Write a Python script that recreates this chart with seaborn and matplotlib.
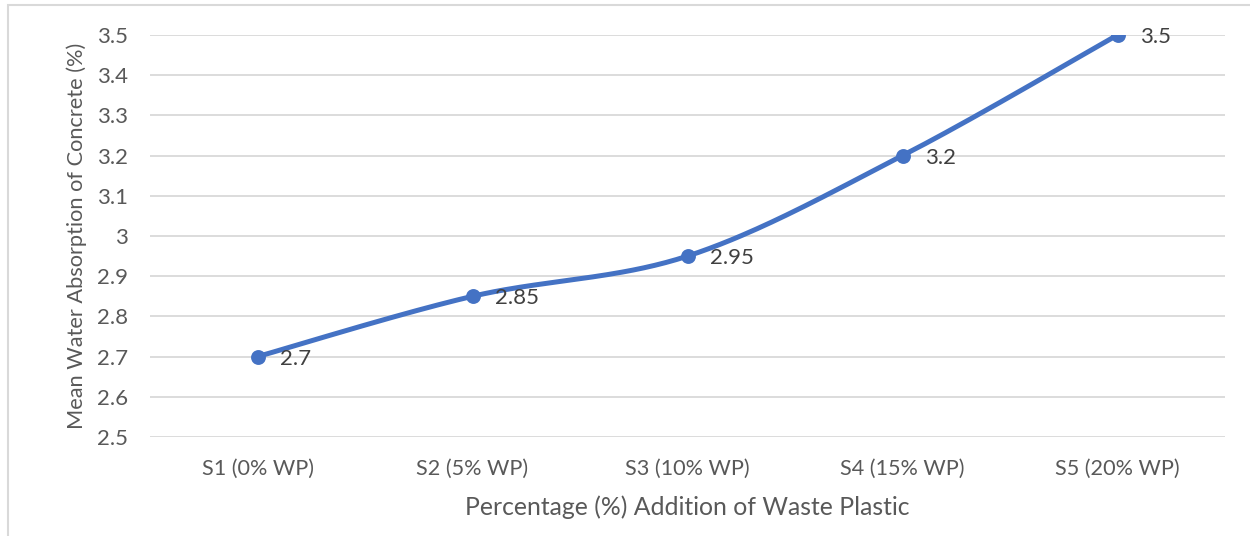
import numpy as np
import pandas as pd
import matplotlib
matplotlib.use("Agg")
import matplotlib.pyplot as plt
from matplotlib.patches import Rectangle
import seaborn as sns

categories = ["S1 (0% WP)", "S2 (5% WP)", "S3 (10% WP)", "S4 (15% WP)", "S5 (20% WP)"]
absorption = [2.7, 2.85, 2.95, 3.2, 3.5]
y_ticks = [2.5, 2.6, 2.7, 2.8, 2.9, 3.0, 3.1, 3.2, 3.3, 3.4, 3.5]
y_tick_labels = ["2.5", "2.6", "2.7", "2.8", "2.9", "3", "3.1", "3.2", "3.3", "3.4", "3.5"]

x_label = "Percentage (%) Addition of Waste Plastic"
y_label = "Mean Water Absorption of Concrete (%)"

LINE = "#4472C4"
GRID = "#D9D9D9"
TICK = "#595959"

sns.set_theme(style="white")
plt.rcParams["font.family"] = ["Lato", "DejaVu Sans"]

df = pd.DataFrame({"pos": np.arange(len(categories)), "val": absorption})

fig = plt.figure(figsize=(12.5, 5.36), dpi=100)
ax = fig.add_axes([150 / 1250, 1 - 437 / 536, (1225 - 150) / 1250, (437 - 35) / 536])

# smoothed connecting curve (cubic Bezier segments, Catmull-Rom style tangents)
px = df["pos"].to_numpy(dtype=float)
py = df["val"].to_numpy(dtype=float)
sx, sy = [], []
n = len(px)
t = np.linspace(0, 1, 60)
for i in range(n - 1):
    p0 = np.array([px[max(i - 1, 0)], py[max(i - 1, 0)]])
    p1 = np.array([px[i], py[i]])
    p2 = np.array([px[i + 1], py[i + 1]])
    p3 = np.array([px[min(i + 2, n - 1)], py[min(i + 2, n - 1)]])
    c1 = p1 + (p2 - p0) / 6.0
    c2 = p2 - (p3 - p1) / 6.0
    b = ((1 - t) ** 3)[:, None] * p1 + (3 * (1 - t) ** 2 * t)[:, None] * c1 \
        + (3 * (1 - t) * t ** 2)[:, None] * c2 + (t ** 3)[:, None] * p2
    sx.extend(b[:, 0])
    sy.extend(b[:, 1])
ax.plot(sx, sy, color=LINE, lw=3.6, solid_capstyle="round", zorder=3)

sns.scatterplot(data=df, x="pos", y="val", ax=ax, color=LINE, s=115,
                edgecolor=LINE, linewidth=0, zorder=4, legend=False)

for xp, v in zip(df["pos"], df["val"]):
    ax.annotate(f"{v:g}", (xp, v), xytext=(16.5, -1.5), textcoords="offset points",
                ha="left", va="center", fontsize=16, color="#404040")

ax.set_xlim(-0.5, len(categories) - 0.5)
ax.set_ylim(2.5, 3.5)
ax.set_yticks(y_ticks)
ax.set_yticklabels(y_tick_labels)
ax.set_xticks(range(len(categories)))
ax.set_xticklabels(categories)
ax.yaxis.grid(True, color=GRID, lw=1.3)
ax.set_axisbelow(True)
for s in ax.spines.values():
    s.set_visible(False)
ax.tick_params(axis="y", length=0, labelsize=16, colors=TICK, pad=16)
ax.tick_params(axis="x", length=0, labelsize=15.6, colors=TICK, pad=16)
ax.set_xlabel(x_label, fontsize=17.8, color=TICK, labelpad=12)
ax.set_ylabel(y_label, fontsize=15.7, color=TICK, labelpad=7)
ax.set_clip_on(False)

fig.patches.append(Rectangle((8 / 1250, -0.05), 1.1, 1 - 5 / 536 + 0.05,
                             transform=fig.transFigure, fill=False,
                             edgecolor="#D9D9D9", lw=1.5, zorder=0))

fig.savefig("out.png", dpi=100, facecolor="white")
